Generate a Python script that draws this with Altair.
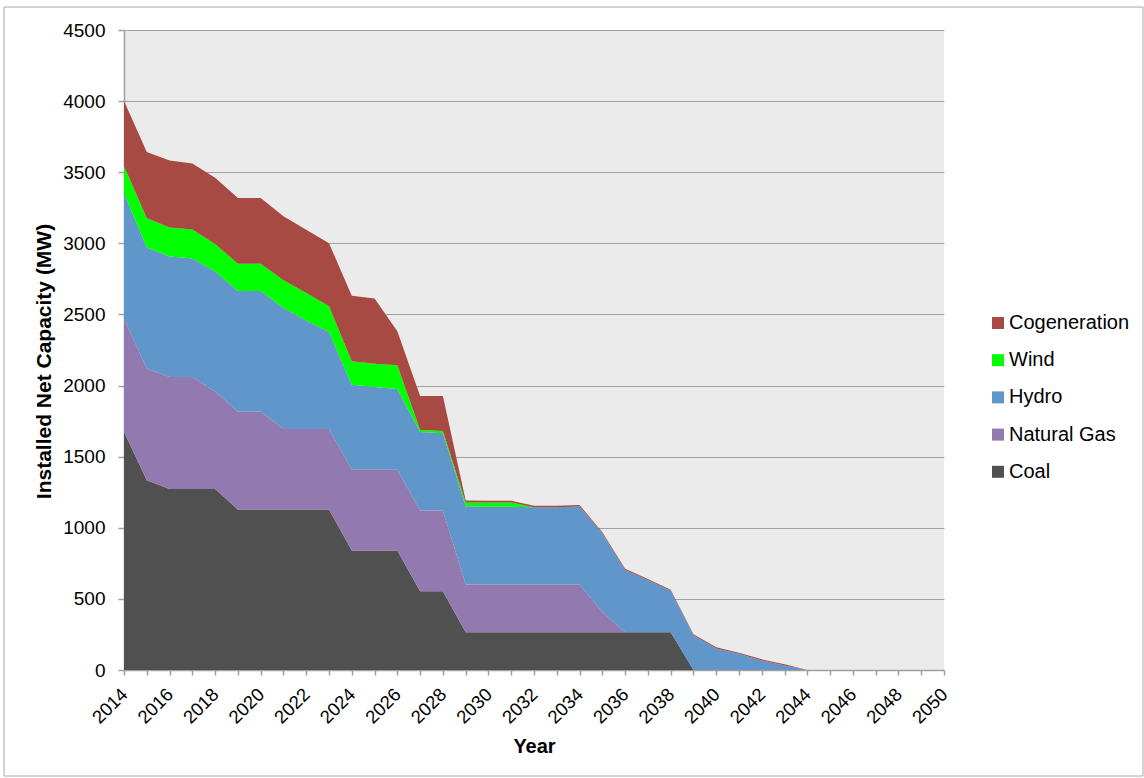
import altair as alt
import pandas as pd

# Installed net capacity (MW) by source, 2014-2050
years = list(range(2014, 2051))

coal = [1676, 1334, 1272, 1272, 1272, 1129, 1129, 1129, 1129, 1129,
        840, 840, 840, 554, 554, 265, 265, 265, 265, 265,
        265, 265, 265, 265, 265, 0, 0, 0, 0, 0,
        0, 0, 0, 0, 0, 0, 0]
natural_gas = [794, 786, 789, 789, 687, 689, 689, 565, 565, 565,
               568, 568, 568, 568, 568, 336, 336, 336, 336, 336,
               336, 142, 0, 0, 0, 0, 0, 0, 0, 0,
               0, 0, 0, 0, 0, 0, 0]
hydro = [882, 850, 846, 832, 843, 846, 846, 852, 763, 682,
         597, 582, 567, 551, 542, 551, 547, 547, 544, 544,
         549, 553, 439, 367, 292, 244, 152, 114, 67, 32,
         0, 0, 0, 0, 0, 0, 0]
wind = [192, 206, 205, 205, 194, 192, 192, 194, 194, 181,
        166, 164, 167, 14, 16, 26, 30, 30, 0, 0,
        0, 0, 0, 0, 0, 0, 0, 0, 0, 0,
        0, 0, 0, 0, 0, 0, 0]
cogeneration = [456, 466, 471, 463, 466, 463, 463, 450, 444, 444,
                460, 458, 240, 240, 247, 14, 12, 12, 10, 10,
                10, 8, 8, 8, 8, 8, 8, 8, 8, 8,
                0, 0, 0, 0, 0, 0, 0]

# legend order (top to bottom) and matching fills
sources = ["Cogeneration", "Wind", "Hydro", "Natural Gas", "Coal"]
fills = ["#A74A43", "#00FF00", "#6096C9", "#927AB0", "#505050"]
# stacking order from the baseline upward
stack_rank = {"Coal": 0, "Natural Gas": 1, "Hydro": 2, "Wind": 3, "Cogeneration": 4}
series = {"Coal": coal, "Natural Gas": natural_gas, "Hydro": hydro,
          "Wind": wind, "Cogeneration": cogeneration}

rows = []
for name, vals in series.items():
    for yr, v in zip(years, vals):
        rows.append({"year": yr, "mw": v, "source": name, "rank": stack_rank[name]})
df = pd.DataFrame(rows)

FONT = "Liberation Sans"
GRID = "#A0A0A0"

areas = alt.Chart(df).mark_area(opacity=1).encode(
    x=alt.X(
        "year:Q",
        title="Year",
        scale=alt.Scale(domain=[2014, 2050], nice=False, zero=False),
        axis=alt.Axis(
            values=years,
            format="d",
            labelExpr="datum.value % 2 === 0 ? datum.label : ''",
            labelAngle=-45,
            labelAlign="right",
            labelBaseline="middle",
            labelPadding=16,
            labelFontSize=18.5,
            tickSize=5,
            grid=False,
            titleY=76,
            titleBaseline="middle",
        ),
    ),
    y=alt.Y(
        "mw:Q",
        stack="zero",
        title="Installed Net Capacity (MW)",
        scale=alt.Scale(domain=[0, 4500], nice=False),
        axis=alt.Axis(
            values=list(range(0, 4501, 500)),
            format="d",
            labelFontSize=19,
            labelPadding=13,
            tickSize=6,
            grid=True,
            titleX=-80,
            titleY=331,
            titleAngle=-90,
            titleAlign="center",
            titleBaseline="middle",
            titleFontSize=21,
        ),
    ),
    color=alt.Color(
        "source:N",
        scale=alt.Scale(domain=sources, range=fills),
        legend=alt.Legend(
            title=None,
            orient="none",
            legendX=864,
            legendY=283,
            symbolType="square",
            symbolSize=144,
            symbolStrokeWidth=0,
            labelFontSize=20,
            labelFont=FONT,
            labelColor="#000000",
            labelOffset=1,
            rowPadding=17.2,
            padding=0,
        ),
    ),
    order=alt.Order("rank:Q", sort="ascending"),
)

# thin frame around the whole figure
frame = alt.Chart(alt.Data(values=[{"frame": 1}])).mark_rect(
    filled=False, stroke="#A8A8A8", strokeWidth=1
).encode(
    x=alt.value(-120), x2=alt.value(1019), y=alt.value(-23), y2=alt.value(746)
)

chart = alt.layer(frame, areas).properties(
    width=820,
    height=640,
    padding={"left": 124, "top": 30, "right": 200, "bottom": 108},
    autosize=alt.AutoSizeParams(type="none"),
    background="#FFFFFF",
).configure_view(
    fill="#EBEBEB", stroke=None
).configure_axis(
    labelFont=FONT,
    titleFont=FONT,
    labelColor="#000000",
    titleColor="#000000",
    titleFontSize=20,
    titleFontWeight="bold",
    domainColor=GRID,
    domainWidth=1.5,
    tickColor=GRID,
    tickWidth=1.5,
    gridColor=GRID,
    gridWidth=1.2,
)

chart.save("out.html", embed_options={"renderer": "svg", "actions": False})
